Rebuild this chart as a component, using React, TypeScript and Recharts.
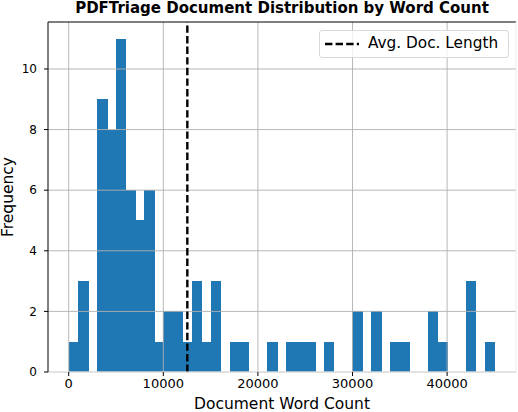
import React from "react";
import { ComposedChart, Bar, XAxis, YAxis, ReferenceLine } from "recharts";

// Histogram bins (start edge, width) and counts
const binStart = 61;
const binWidth = 999.4;
const counts = [1, 3, 0, 9, 8, 11, 6, 5, 6, 1, 2, 2, 1, 3, 1, 3, 0, 1, 1, 0, 0, 1, 0, 1, 1, 1, 0, 1, 0, 0, 2, 0, 2, 0, 1, 1, 0, 0, 2, 1, 0, 0, 3, 0, 1];
const avgLength = 12540;
const xTicks = [0, 10000, 20000, 30000, 40000];
const yTicks = [0, 2, 4, 6, 8, 10];
const xDomain = [-2188, 47283];
const yDomain = [0, 11.55];

const data = counts.map((c, i) => ({ x: binStart + binWidth * (i + 0.5), count: c }));

const FONT = "DejaVu Sans, sans-serif";

// Bars fill the whole bin (no sub-pixel gaps between adjacent bins)
const HistBar = (props: any) => {
  const { x, y, width, height, fill } = props;
  if (!height || height <= 0) return null;
  return <rect x={x - 0.5} y={y} width={width + 1.4} height={height} fill={fill} shapeRendering="crispEdges" />;
};

const LegendBox = () => (
  <div
    style={{
      position: "absolute",
      left: 319,
      top: 30,
      width: 188,
      height: 26,
      background: "rgba(255,255,255,0.8)",
      border: "1px solid #d9d9d9",
      borderRadius: 3,
      fontFamily: FONT,
    }}
  >
    <svg width={40} height={26} style={{ position: "absolute", left: 4, top: 0 }}>
      <line x1={1} y1={13} x2={35} y2={13} stroke="#000" strokeWidth={2.4} strokeDasharray="7.4 3.2" />
    </svg>
    <span style={{ position: "absolute", left: 48, top: 3, fontSize: 15.3, lineHeight: "18px", color: "#000", whiteSpace: "nowrap" }}>
      Avg. Doc. Length
    </span>
  </div>
);

export default function App() {
  return (
    <div style={{ position: "absolute", left: 0, top: 0, width: 518, height: 412, background: "#fff", fontFamily: FONT }}>
      <div
        style={{
          position: "absolute",
          left: 0,
          width: 564,
          top: 0,
          textAlign: "center",
          fontWeight: "bold",
          fontSize: 15,
          lineHeight: "17px",
          color: "#000",
          whiteSpace: "nowrap",
        }}
      >
        PDFTriage Document Distribution by Word Count
      </div>
      <ComposedChart
        width={518}
        height={412}
        data={data}
        margin={{ top: 22, right: 2, left: 0, bottom: 0 }}
        barCategoryGap={0}
        barGap={0}
      >
        <XAxis
          dataKey="x"
          type="number"
          domain={xDomain}
          ticks={xTicks}
          allowDataOverflow
          height={40}
          tickSize={4}
          tickMargin={3}
          axisLine={{ stroke: "#ebebeb" }}
          tickLine={{ stroke: "#000" }}
          tick={{ fill: "#000", fontSize: 13, fontFamily: FONT }}
        />
        <YAxis
          type="number"
          domain={yDomain}
          ticks={yTicks}
          allowDataOverflow
          width={48}
          tickSize={4}
          tickMargin={7}
          axisLine={{ stroke: "#000" }}
          tickLine={{ stroke: "#000" }}
          tick={{ fill: "#000", fontSize: 12, fontFamily: FONT }}
        />
        <Bar dataKey="count" fill="#1f77b4" shape={HistBar} isAnimationActive={false} />
        {xTicks.map((t) => (
          <ReferenceLine key={"gx" + t} x={t} stroke="#b0b0b0" strokeWidth={0.9} />
        ))}
        {yTicks.map((t) => (
          <ReferenceLine key={"gy" + t} y={t} stroke="#b0b0b0" strokeWidth={0.9} />
        ))}
        <ReferenceLine y={yDomain[1]} stroke="#000" strokeWidth={1.2} />
        <ReferenceLine x={xDomain[1]} stroke="#ebebeb" strokeWidth={1} />
        <ReferenceLine x={avgLength} stroke="#000" strokeWidth={2.4} strokeDasharray="7.4 3.2" />
      </ComposedChart>
      <LegendBox />
      <div
        style={{
          position: "absolute",
          left: 0,
          width: 564,
          top: 395,
          textAlign: "center",
          fontSize: 15.5,
          lineHeight: "18px",
          color: "#000",
          whiteSpace: "nowrap",
        }}
      >
        Document Word Count
      </div>
      <div
        style={{
          position: "absolute",
          left: 8,
          top: 197,
          transform: "translate(-50%, -50%) rotate(-90deg)",
          fontSize: 15.5,
          lineHeight: "18px",
          color: "#000",
          whiteSpace: "nowrap",
        }}
      >
        Frequency
      </div>
    </div>
  );
}
